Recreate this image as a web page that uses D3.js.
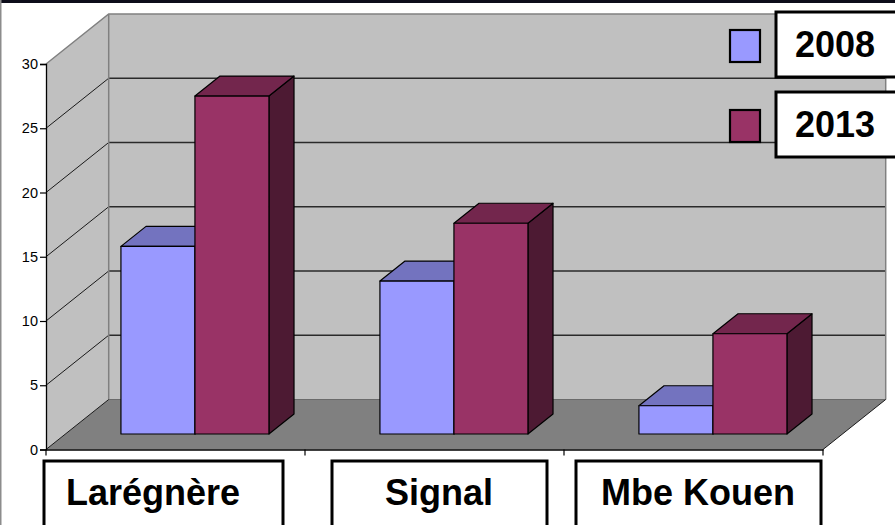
<!DOCTYPE html>
<html>
<head>
<meta charset="utf-8">
<script src="https://cdn.jsdelivr.net/npm/d3@7"></script>
<style>
  html, body { margin: 0; padding: 0; background: #ffffff; }
  svg { display: block; }
  text { font-family: "Liberation Sans", Arial, sans-serif; }
</style>
</head>
<body>
<svg id="chart" width="895" height="525"></svg>
<script>
// Chart data
const categories = ["Larégnère", "Signal", "Mbe Kouen"];
const seriesNames = ["2008", "2013"];
const values2008 = [14.6, 11.9, 2.2];
const values2013 = [26.3, 16.4, 7.8];
const yTicks = [0, 5, 10, 15, 20, 25, 30];

// Layout constants
const W = 895, H = 525;
const front = { left: 46, right: 823, bottom: 449.5, top: 64 };
const depthX = 62.7, depthY = 50;          // oblique offset of the back wall
const barDepth = [0.31, 0.71];             // bar front/back position along depth
const labelBoxes = [                       // category label boxes [left, right, textCenter]
  [44, 283, 153], [332, 547, 439], [576, 821, 698]
];

const colors = {
  "2008": { front: "#9999ff", top: "#7373bf", side: "#4d4d80" },
  "2013": { front: "#993366", top: "#73264d", side: "#4d1a33" }
};

const svg = d3.select("#chart");

const y = d3.scaleLinear().domain([0, 30]).range([front.bottom, front.top]);
const x = d3.scaleBand().domain(categories).range([front.left, front.right]).padding(0);
const xs = d3.scaleBand().domain(seriesNames).range([0, x.bandwidth()])
  .paddingInner(0).paddingOuter(0.75);
const dz = d3.scaleLinear().domain([0, 1]).range([0, 1]);
const ox = f => depthX * dz(f);
const oy = f => -depthY * dz(f);

const poly = pts => "M" + pts.map(p => p.join(",")).join("L") + "Z";

// Frame edges
svg.append("rect").attr("x", 0).attr("y", 0).attr("width", W).attr("height", 3).attr("fill", "#0d0d1a");
svg.append("rect").attr("x", 0).attr("y", 0).attr("width", 1.5).attr("height", H).attr("fill", "#8c8c8c");

// Back wall
const bx0 = front.left + ox(1), bx1 = front.right + ox(1);
svg.append("path")
  .attr("d", poly([[bx0, y(30) + oy(1)], [bx1, y(30) + oy(1)], [bx1, y(0) + oy(1)], [bx0, y(0) + oy(1)]]))
  .attr("fill", "#c0c0c0");
// Side wall
svg.append("path")
  .attr("d", poly([[front.left, y(30)], [bx0, y(30) + oy(1)], [bx0, y(0) + oy(1)], [front.left, y(0)]]))
  .attr("fill", "#c0c0c0");
// Floor
svg.append("path")
  .attr("d", poly([[front.left, y(0)], [bx0, y(0) + oy(1)], [bx1, y(0) + oy(1)], [front.right, y(0)]]))
  .attr("fill", "#808080");

// Gridlines on back and side walls
const grid = svg.append("g").attr("fill", "none");
yTicks.filter(v => v > 0 && v < 30).forEach(v => {
  grid.append("line")
    .attr("x1", bx0).attr("x2", bx1)
    .attr("y1", y(v) + oy(1)).attr("y2", y(v) + oy(1))
    .attr("stroke", "#2a2a2a").attr("stroke-width", 1.3);
  grid.append("line")
    .attr("x1", front.left).attr("x2", bx0)
    .attr("y1", y(v)).attr("y2", y(v) + oy(1))
    .attr("stroke", "#1a1a1a").attr("stroke-width", 1);
});
// Wall outline edges
grid.append("path")
  .attr("d", `M${front.left},${y(30)}L${bx0},${y(30) + oy(1)}L${bx1},${y(30) + oy(1)}L${bx1},${y(0) + oy(1)}`)
  .attr("stroke", "#808080").attr("stroke-width", 1.5);
grid.append("line")
  .attr("x1", bx0).attr("x2", bx0).attr("y1", y(30) + oy(1)).attr("y2", y(0) + oy(1))
  .attr("stroke", "#808080").attr("stroke-width", 1.5);
grid.append("line")
  .attr("x1", bx0).attr("x2", bx1).attr("y1", y(0) + oy(1)).attr("y2", y(0) + oy(1))
  .attr("stroke", "#6a6a6a").attr("stroke-width", 1.2);
grid.append("line")
  .attr("x1", front.left).attr("x2", bx0).attr("y1", y(0)).attr("y2", y(0) + oy(1))
  .attr("stroke", "#1a1a1a").attr("stroke-width", 1);
grid.append("line")
  .attr("x1", front.right).attr("x2", bx1).attr("y1", y(0)).attr("y2", y(0) + oy(1))
  .attr("stroke", "#1a1a1a").attr("stroke-width", 1);

// Bars
const seriesValues = { "2008": values2008, "2013": values2013 };
const bars = svg.append("g").attr("stroke", "#000").attr("stroke-width", 1.2).attr("stroke-linejoin", "round");
categories.forEach((cat, i) => {
  seriesNames.forEach(s => {
    const v = seriesValues[s][i];
    const c = colors[s];
    const xl = x(cat) + xs(s) + ox(barDepth[0]);
    const xr = xl + xs.bandwidth();
    const yb = y(0) + oy(barDepth[0]);
    const yt = y(v) + oy(barDepth[0]);
    const ddx = ox(barDepth[1]) - ox(barDepth[0]);
    const ddy = oy(barDepth[1]) - oy(barDepth[0]);
    // side face
    bars.append("path").attr("fill", c.side)
      .attr("d", poly([[xr, yt], [xr + ddx, yt + ddy], [xr + ddx, yb + ddy], [xr, yb]]));
    // top face
    bars.append("path").attr("fill", c.top)
      .attr("d", poly([[xl, yt], [xl + ddx, yt + ddy], [xr + ddx, yt + ddy], [xr, yt]]));
    // front face
    bars.append("path").attr("fill", c.front)
      .attr("d", poly([[xl, yt], [xr, yt], [xr, yb], [xl, yb]]));
  });
});

// Value axis
const yAxis = svg.append("g")
  .attr("transform", `translate(${front.left},0)`)
  .call(d3.axisLeft(y).tickValues(yTicks).tickSize(6).tickPadding(2).tickFormat(d3.format("d")));
yAxis.attr("font-size", null).attr("font-family", null);
yAxis.select(".domain").attr("stroke", "#000").attr("stroke-width", 1.3);
yAxis.selectAll(".tick line").attr("stroke", "#000").attr("stroke-width", 1.2);
yAxis.selectAll(".tick text")
  .style("font-family", "'Liberation Sans', Arial, sans-serif")
  .style("font-size", "14.5px").attr("fill", "#000");

// Category axis
const xAxis = svg.append("g")
  .attr("transform", `translate(0,${front.bottom})`)
  .call(d3.axisBottom(x).tickSize(0).tickFormat(""));
xAxis.select(".domain").attr("stroke", "#000").attr("stroke-width", 1.6);
const catTicks = [front.left].concat(categories.map(c => x(c) + x.bandwidth()));
xAxis.selectAll(".cat-tick").data(catTicks).join("line")
  .attr("x1", d => d).attr("x2", d => d).attr("y1", 0).attr("y2", 6)
  .attr("stroke", "#000").attr("stroke-width", 1.2);

// Category label boxes
const lbl = svg.append("g");
categories.forEach((cat, i) => {
  const b = labelBoxes[i];
  lbl.append("rect")
    .attr("x", b[0]).attr("y", 461).attr("width", b[1] - b[0]).attr("height", 80)
    .attr("fill", "#fff").attr("stroke", "#000").attr("stroke-width", 3);
  lbl.append("text")
    .attr("x", b[2]).attr("y", 505).attr("text-anchor", "middle")
    .attr("font-size", 36).attr("font-weight", "bold").attr("fill", "#000")
    .text(cat);
});

// Legend
const legend = svg.append("g");
seriesNames.forEach((s, i) => {
  const top = 12 + i * 80;
  legend.append("rect")
    .attr("x", 730).attr("y", top + 18).attr("width", 30).attr("height", 32)
    .attr("fill", colors[s].front).attr("stroke", "#000").attr("stroke-width", 2.2);
  legend.append("rect")
    .attr("x", 776).attr("y", top).attr("width", 140).attr("height", 65)
    .attr("fill", "#fff").attr("stroke", "#000").attr("stroke-width", 3);
  legend.append("text")
    .attr("x", 795).attr("y", top + 45)
    .attr("font-size", 36).attr("font-weight", "bold").attr("fill", "#000")
    .text(s);
});
</script>
</body>
</html>
